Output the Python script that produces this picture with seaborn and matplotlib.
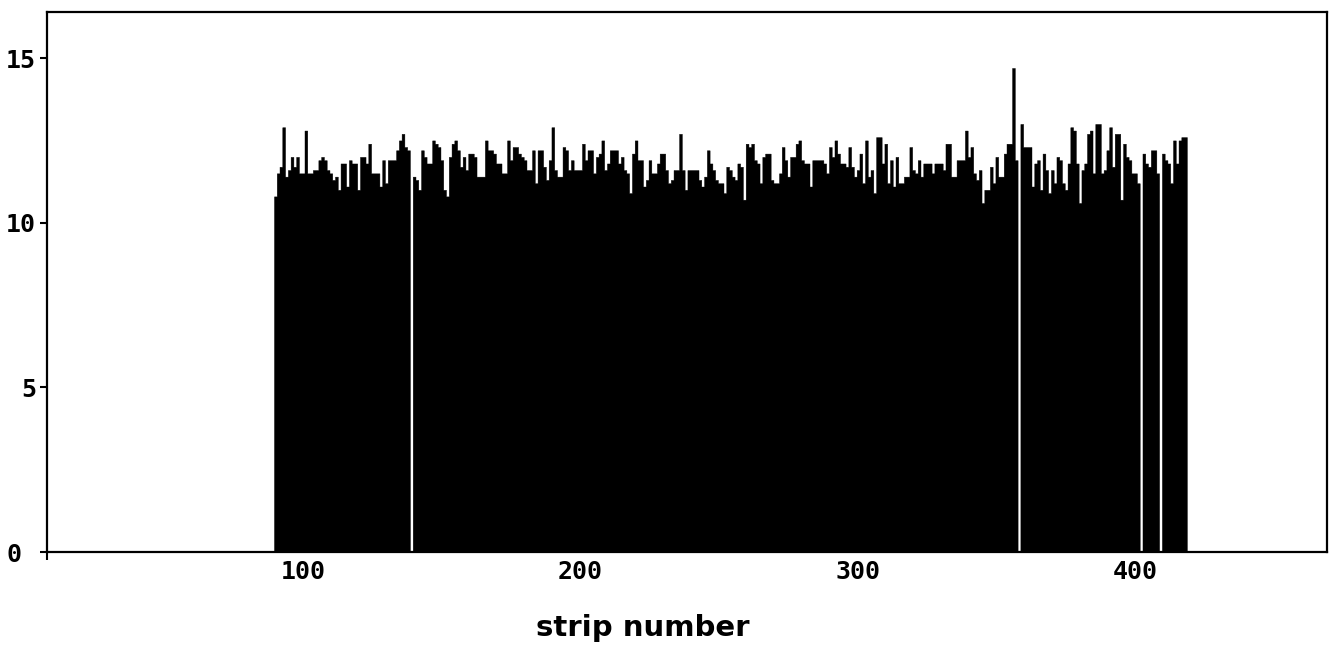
import numpy as np
import matplotlib
matplotlib.use("Agg")
import matplotlib.pyplot as plt
import seaborn as sns

# ---- data: strip number vs. signal ----
first_strip = 90
last_strip = 418
h_090_118 = [10.8, 11.5, 11.7, 12.9, 11.4, 11.6, 12.0, 11.7, 12.0, 11.5, 11.5, 12.8, 11.5, 11.5, 11.6,
             11.6, 11.9, 12.0, 11.9, 11.6, 11.5, 11.3, 11.4, 11.0, 11.8, 11.8, 11.1, 11.9, 11.8]
h_119_149 = [11.8, 11.0, 12.0, 12.0, 11.8, 12.4, 11.5, 11.5, 11.5, 11.1, 11.9, 11.2, 11.9, 11.9, 11.9,
             12.2, 12.5, 12.7, 12.3, 12.2, 0.0, 11.4, 11.3, 11.0, 12.2, 12.0, 11.8, 11.8, 12.5, 12.4, 12.3]
h_150_179 = [11.9, 11.0, 10.8, 12.0, 12.4, 12.5, 12.2, 11.7, 12.0, 11.6, 12.1, 12.1, 12.0, 11.4, 11.4,
             11.4, 12.5, 12.2, 12.2, 12.1, 11.8, 11.8, 11.5, 11.5, 12.5, 11.9, 12.3, 12.3, 12.1, 12.0]
h_180_209 = [11.9, 11.6, 11.6, 12.2, 11.2, 12.2, 12.2, 11.7, 11.3, 11.9, 12.9, 11.6, 11.4, 11.4, 12.3,
             12.2, 11.6, 11.9, 11.6, 11.6, 11.6, 12.4, 11.9, 12.2, 12.2, 11.5, 12.0, 12.1, 12.5, 11.6]
h_210_240 = [11.8, 12.2, 12.2, 12.2, 11.8, 12.0, 11.6, 11.5, 10.9, 12.1, 12.5, 11.9, 11.9, 11.1, 11.3,
             11.9, 11.5, 11.5, 11.8, 12.1, 12.1, 11.6, 11.2, 11.3, 11.6, 11.6, 12.7, 11.6, 11.0, 11.6, 11.6]
h_241_270 = [11.6, 11.6, 11.3, 11.1, 11.4, 12.2, 11.8, 11.6, 11.3, 11.2, 11.2, 10.9, 11.7, 11.6, 11.4,
             11.3, 11.8, 11.7, 10.7, 12.4, 12.3, 12.4, 11.9, 11.8, 11.2, 12.0, 12.1, 12.1, 11.3, 11.2]
h_271_300 = [11.2, 11.5, 12.3, 11.9, 11.4, 12.0, 12.0, 12.4, 12.5, 11.9, 11.8, 11.8, 11.1, 11.9, 11.9,
             11.9, 11.9, 11.8, 11.5, 12.3, 12.0, 12.5, 12.1, 11.8, 11.8, 11.7, 12.3, 11.7, 11.4, 11.6]
h_301_330 = [12.1, 11.2, 12.5, 11.4, 11.6, 10.9, 12.6, 12.6, 11.8, 12.4, 11.2, 11.9, 11.1, 12.0, 11.2,
             11.2, 11.4, 11.4, 12.3, 11.6, 11.5, 11.9, 11.4, 11.8, 11.8, 11.8, 11.5, 11.8, 11.8, 11.8]
h_331_361 = [11.6, 12.4, 12.4, 11.4, 11.4, 11.9, 11.9, 11.9, 12.8, 12.0, 12.3, 11.5, 11.3, 11.6, 10.6,
             11.0, 11.0, 11.7, 11.2, 12.0, 11.4, 11.4, 12.1, 12.4, 12.4, 14.7, 11.9, 0.0, 13.0, 12.3, 12.3]
h_362_391 = [12.3, 11.1, 11.8, 11.9, 11.0, 12.1, 11.6, 10.9, 11.6, 11.2, 12.0, 11.9, 11.2, 11.0, 11.8,
             12.9, 12.8, 11.8, 10.6, 11.6, 11.8, 12.7, 12.8, 11.5, 13.0, 13.0, 11.5, 11.6, 12.2, 12.9]
h_392_418 = [11.7, 12.7, 12.7, 10.7, 12.4, 12.0, 11.9, 11.5, 11.5, 11.2, 0.0, 12.1, 11.8, 11.7, 12.2,
             12.2, 11.5, 0.0, 12.1, 11.9, 11.8, 11.2, 12.5, 11.8, 12.5, 12.6, 12.6]

heights = (h_090_118 + h_119_149 + h_150_179 + h_180_209 + h_210_240 + h_241_270 +
           h_271_300 + h_301_330 + h_331_361 + h_362_391 + h_392_418)
strips = list(range(first_strip, last_strip + 1))

x_ticks = [100, 200, 300, 400]
x_tick_labels = ["100", "200", "300", "400"]
y_ticks = [0, 5, 10, 15]
y_tick_labels = ["0", "5", "10", "15"]
x_label = "strip number"

# ---- drawing ----
sns.set_style("ticks")
W, H = 1329, 662
fig = plt.figure(figsize=(W / 100, H / 100), dpi=100)
ax = fig.add_axes([47 / W, 1 - 552 / H, 1280 / W, 540 / H])

sns.histplot(x=strips, weights=heights, discrete=True, element="step", fill=True,
             color="black", alpha=1.0, linewidth=0.3, edgecolor="black", ax=ax)

x_left, x_right = 7.7, 469.0
ax.set_xlim(x_left, x_right)
ax.set_ylim(0, 16.4)

for sp in ax.spines.values():
    sp.set_linewidth(1.6)
    sp.set_color("black")

mono = {"family": "DejaVu Sans Mono", "weight": "bold", "size": 18, "color": "black"}
ax.set_xticks(x_ticks)
ax.set_xticklabels(x_tick_labels, fontdict=mono)
ax.set_yticks(y_ticks)
ax.set_yticklabels(y_tick_labels, fontdict=mono)
ax.tick_params(axis="y", direction="out", length=5, width=1.5, pad=3, colors="black")
ax.tick_params(axis="x", direction="out", length=0, width=1.5, pad=6, colors="black")
# small downward tick at the origin corner (the "+" mark)
ax.set_xticks([x_left], minor=True)
ax.tick_params(axis="x", which="minor", direction="out", length=6, width=1.5, color="black")
ax.set_ylabel("")

# the "0" label sits further left in the original
ax.yaxis.get_major_ticks()[0].set_pad(13)

ax.set_xlabel(x_label, fontsize=21, fontweight="bold", family="DejaVu Sans", color="black")
ax.xaxis.set_label_coords((643 - 47) / 1280, (552 - 628) / 540)
ax.xaxis.label.set_va("center")

fig.savefig("out.png", dpi=100)
